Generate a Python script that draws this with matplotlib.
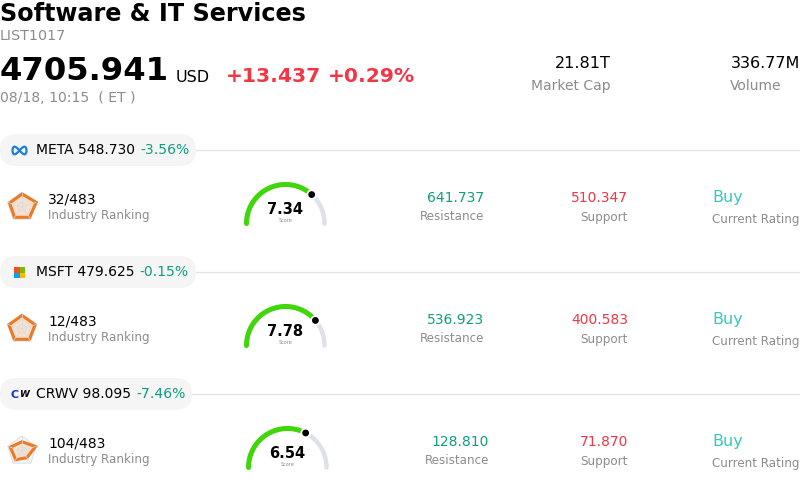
import numpy as np
import matplotlib.pyplot as plt
from matplotlib.patches import FancyBboxPatch, Polygon, Rectangle, Circle

# header values
title = "Software & IT Services"
code = "LIST1017"
price = "4705.941"
change = "+13.437"
change_pct = "+0.29%"
time_label = "08/18, 10:15  ( ET )"
market_cap = "21.81T"
volume = "336.77M"

# one entry per stock
tickers = ["META", "MSFT", "CRWV"]
prices = ["548.730", "479.625", "98.095"]
pcts = ["-3.56%", "-0.15%", "-7.46%"]
ranks = ["32/483", "12/483", "104/483"]
scores = [7.34, 7.78, 6.54]
resistance = ["641.737", "536.923", "128.810"]
support = ["510.347", "400.583", "71.870"]
ratings = ["Buy", "Buy", "Buy"]
radar_vals = [[0.87, 1.0, 0.85, 0.85, 0.87],
              [0.9, 0.92, 0.85, 0.85, 0.92],
              [0.62, 0.95, 0.55, 0.72, 0.82]]

GREY = "#8c8c8c"
GREEN = "#0f9d82"
RED = "#f23645"
TEAL = "#35c9bd"

fig = plt.figure(figsize=(8, 4.88), dpi=100)
ax = fig.add_axes([0, 0, 1, 1])
ax.set_xlim(0, 800)
ax.set_ylim(488, 0)
ax.axis("off")


def txt(x, y, s, size, color="black", ha="left", **kw):
    return ax.text(x, y, s, fontsize=size, color=color, ha=ha, va="center", **kw)


def gauge(cx, cy, score):
    r = 39
    a = np.radians(np.linspace(0, 180, 100))
    ax.plot(cx + r * np.cos(a), cy - r * np.sin(a), color="#dfe1ea", lw=3.2,
            solid_capstyle="round", zorder=2)
    end = 180 - score * 18
    a = np.radians(np.linspace(180, end, 100))
    ax.plot(cx + r * np.cos(a), cy - r * np.sin(a), color="#3fd60a", lw=3.6,
            solid_capstyle="round", zorder=3)
    d = np.radians(end)
    ax.add_patch(Circle((cx + r * np.cos(d), cy - r * np.sin(d)), 5.2, fc="white", ec="none", zorder=4))
    ax.add_patch(Circle((cx + r * np.cos(d), cy - r * np.sin(d)), 3.4, fc="black", ec="none", zorder=5))
    txt(cx, cy - 14, f"{score:.2f}", 10.5, ha="center", fontweight="bold", zorder=6)
    txt(cx, cy - 3, "Score", 3.5, GREY, ha="center")


def radar(cx, cy, vals):
    ang = np.radians(90 - 72 * np.arange(5))
    r = 15
    for k in [1, 0.66, 0.33]:
        pts = np.c_[cx + k * r * np.cos(ang), cy - k * r * np.sin(ang)]
        ax.add_patch(Polygon(pts, fc="#f6f6f8", ec="#d9dbe3", lw=0.6))
    for a in ang:
        ax.plot([cx, cx + r * np.cos(a)], [cy, cy - r * np.sin(a)], color="#d9dbe3", lw=0.5)
    v = np.array(vals)
    pts = np.c_[cx + v * r * np.cos(ang), cy - v * r * np.sin(ang)]
    ax.add_patch(Polygon(pts, fc="#f5d5bb", alpha=0.6, ec="none"))
    ax.add_patch(Polygon(pts, fc="none", ec="#ec7a22", lw=2.2))


def logo(i, x, y):
    if i == 0:
        t = np.linspace(0, 2 * np.pi, 100)
        ax.plot(x + 7 * np.sin(t), y + 3.8 * np.sin(2 * t), color="#1c7fe0", lw=1.6, zorder=3)
    elif i == 1:
        for dx, dy, c in [(-5.5, -5.5, "#f25022"), (0, -5.5, "#7fba00"), (-5.5, 0, "#00a4ef"), (0, 0, "#ffb900")]:
            ax.add_patch(Rectangle((x + dx, y + dy), 5.5, 5.5, fc=c, ec="none", zorder=3))
    else:
        txt(x - 5, y, "C", 8, "#1a2fd0", ha="center", fontweight="bold", zorder=3)
        txt(x + 4.5, y, "W", 6.5, "black", ha="center", fontweight="bold", style="italic", zorder=3)


# header
txt(0, 14, title, 17.2, fontweight="bold")
txt(0, 36.5, code, 10.3, GREY)
txt(0, 72, price, 23.2, fontweight="bold")
txt(176, 77, "USD", 11.5)
txt(226, 76, change, 14.6, RED, fontweight="semibold")
txt(328, 76, change_pct, 14.6, RED, fontweight="semibold")
txt(0, 98.5, time_label, 10.1, GREY)
txt(610.5, 63, market_cap, 11.5, ha="right")
txt(610.5, 86, "Market Cap", 10, GREY, ha="right")
txt(800, 63, volume, 11.5, ha="right")
txt(730, 86, "Volume", 10, GREY)

# rows of the list
row_y = [150, 272, 394]
pill_w = [196, 196, 192]
row_dx = [0, 0, 4]
gauge_dx = [0, 0, 2]
for i in range(len(tickers)):
    y = row_y[i]
    ax.plot([0, 800], [y, y], color="#e3e3e3", lw=0.9, zorder=0)
    ax.add_patch(FancyBboxPatch((0, y - 16), pill_w[i], 32,
                                boxstyle="round,pad=0,rounding_size=16",
                                fc="#f5f5f5", ec="none", zorder=1))
    logo(i, 19.5, y + 0.5)
    t = txt(36, y, f"{tickers[i]} {prices[i]}", 10, zorder=3)
    fig.canvas.draw()
    x_end = t.get_window_extent().x1
    txt(x_end + 5, y, pcts[i], 10.1, GREEN, zorder=3)

    radar(22, y + 57, radar_vals[i])
    txt(48, y + 49.5, ranks[i], 10)
    txt(48, y + 65, "Industry Ranking", 8.6, GREY)

    gauge(285.5 + gauge_dx[i], y + 73.5, scores[i])

    txt(484 + row_dx[i] + (i == 2), y + 47.5, resistance[i], 10, GREEN, ha="right")
    txt(484 + row_dx[i] + (i == 2), y + 67, "Resistance", 8.6, GREY, ha="right")
    txt(628, y + 47.5, support[i], 10, RED, ha="right")
    txt(628, y + 67, "Support", 8.6, GREY, ha="right")
    txt(712, y + 47.5, ratings[i], 11.5, TEAL)
    txt(800, y + 69, "Current Rating", 8.6, GREY, ha="right")

fig.savefig("out.png", dpi=100)
